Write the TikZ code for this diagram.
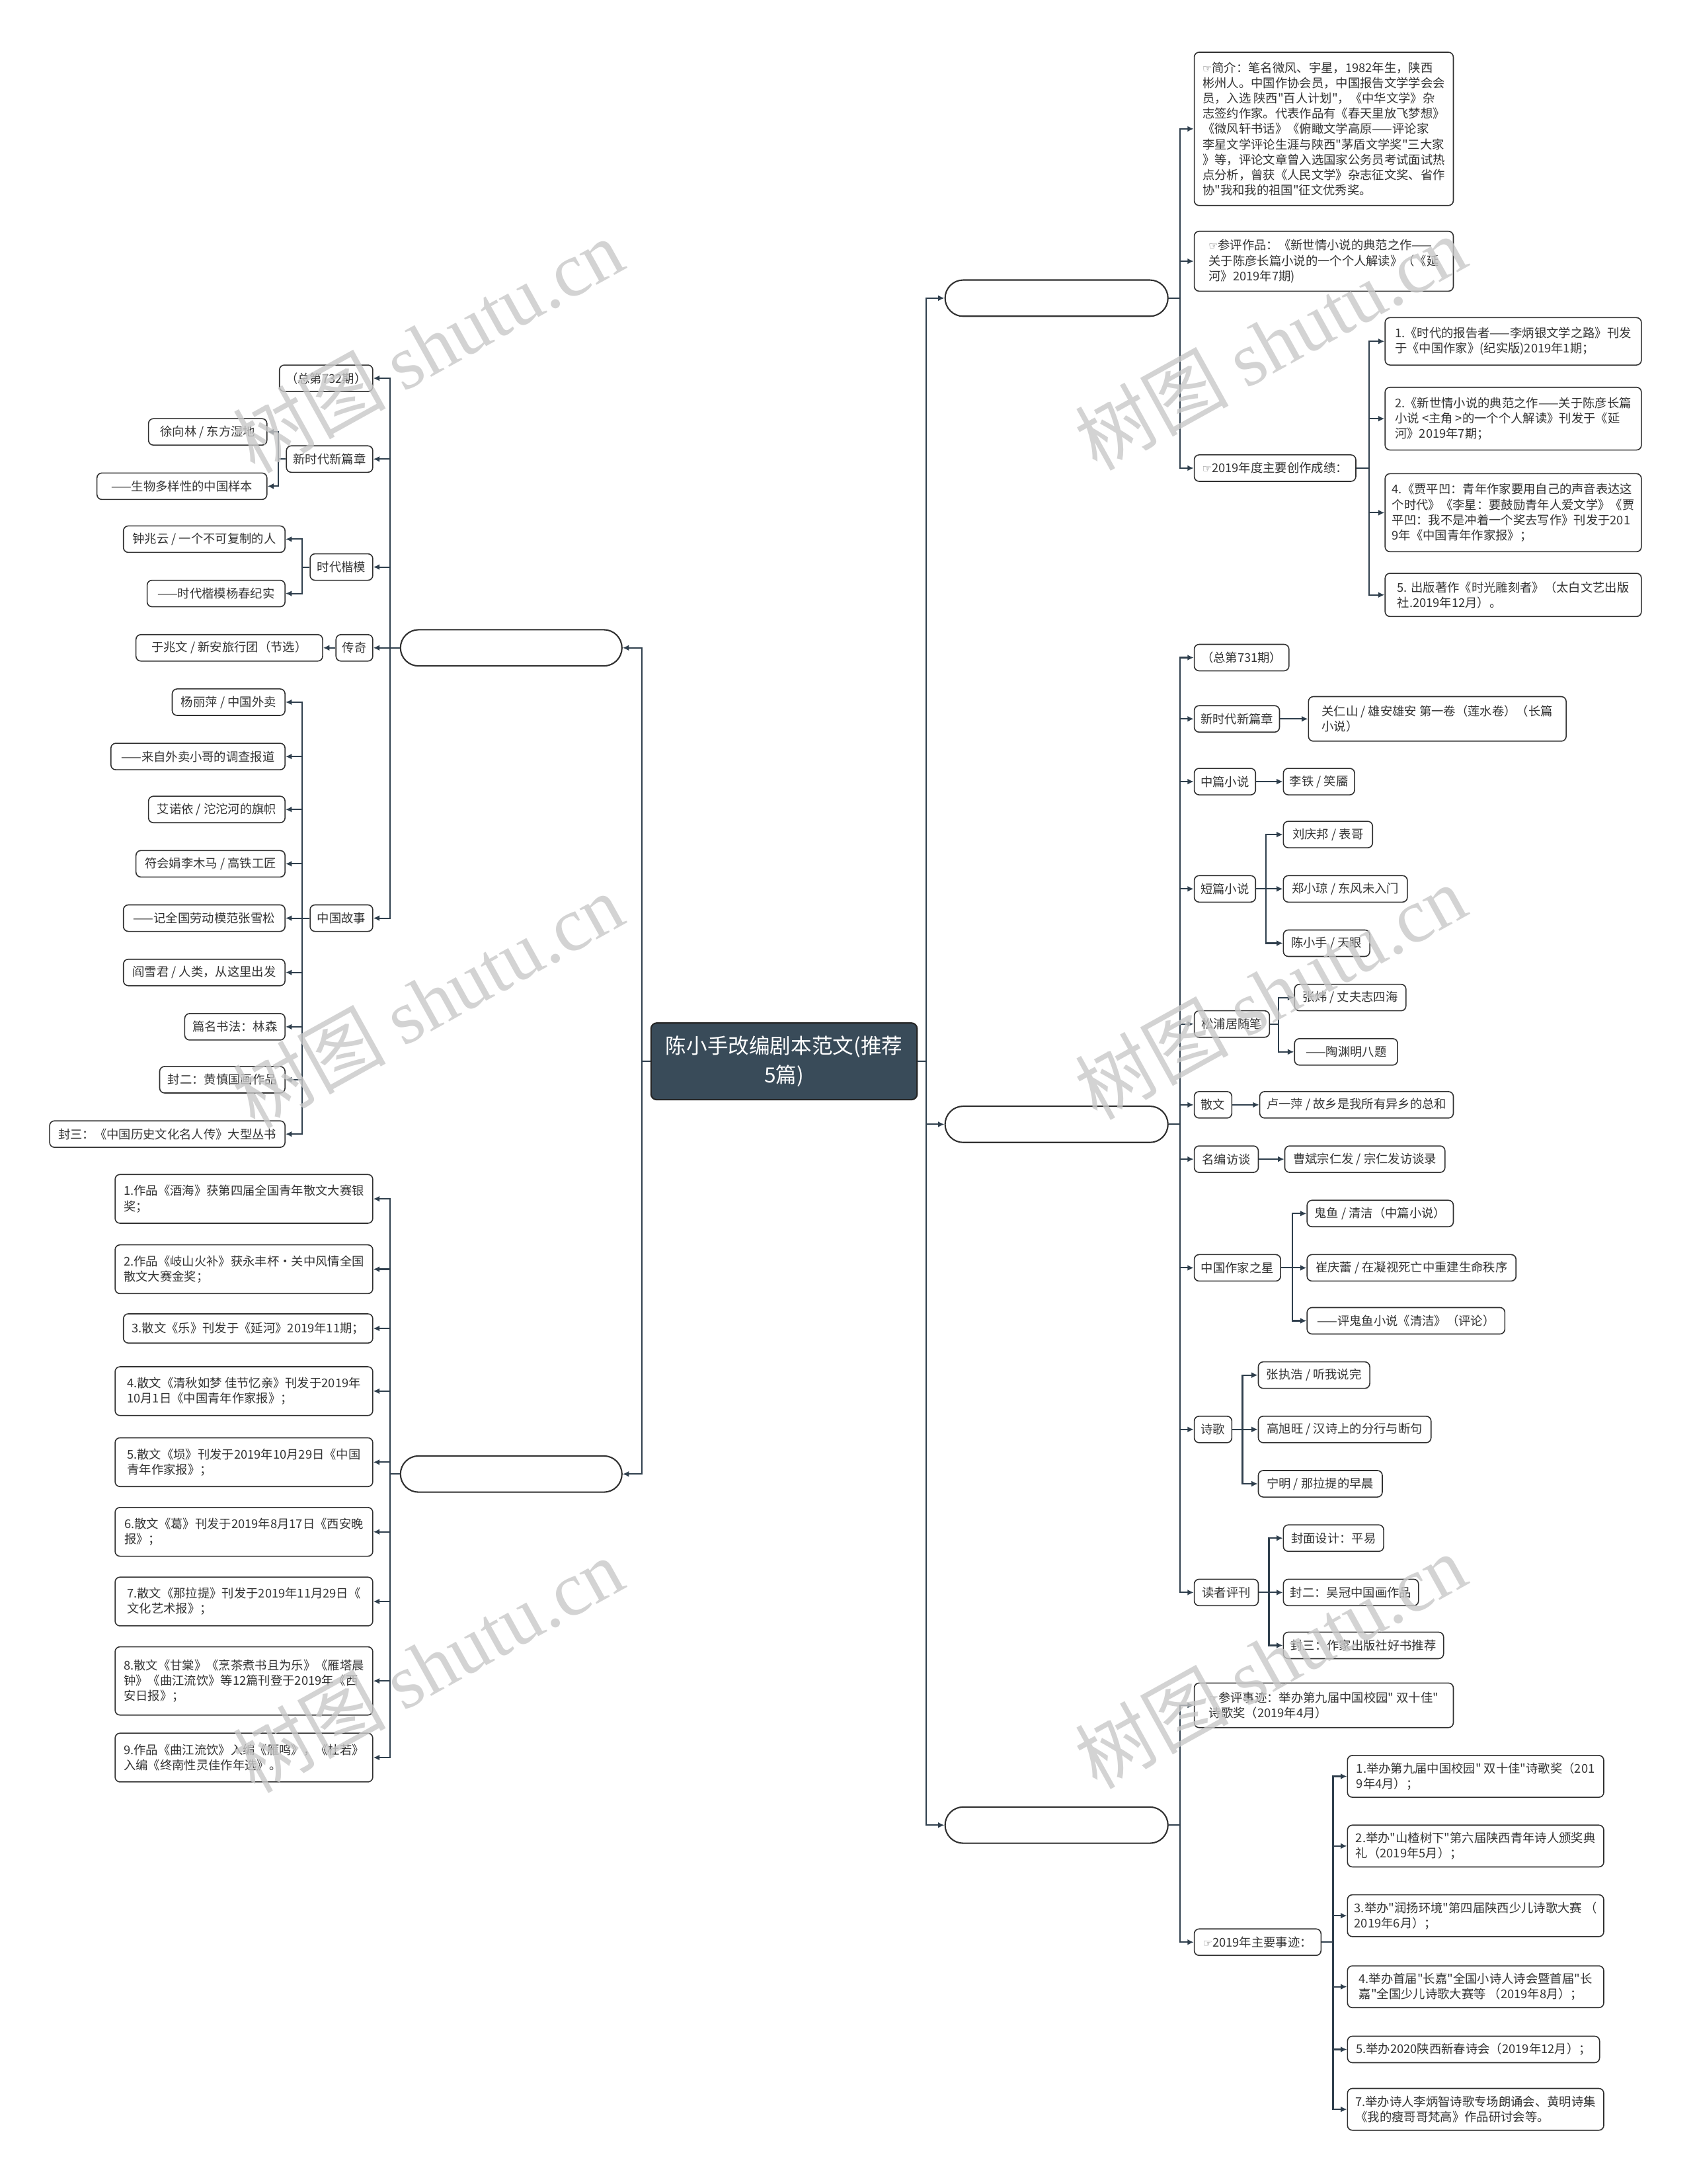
\documentclass[tikz,border=0pt]{standalone}
\usepackage{fontspec}
\newfontfamily\cjk{Noto Sans CJK SC}
\newfontfamily\symf{DejaVu Sans}
\newfontfamily\wmserif{Liberation Serif}
\usetikzlibrary{arrows.meta}
\definecolor{linec}{HTML}{2F3F4D}
\definecolor{boxc}{HTML}{303030}
\definecolor{txtc}{HTML}{333333}
\definecolor{rootc}{HTML}{394B59}
\definecolor{wmc}{HTML}{C8C8C8}
\newcommand\hand{{\symf\fontsize{7.5}{7.5}\selectfont\textcolor{txtc!80}{☞}}}
\newcommand\rnd[6][]{\node[box,anchor=west,minimum width={(#4)*1pt-(#3)*1pt},#1] (#2) at (#3,#5) {#6};}
\newcommand\lnd[6][]{\node[box,anchor=east,minimum width={(#4)*1pt-(#3)*1pt},#1] (#2) at (#4,#5) {#6};}
\tikzset{
  box/.style={draw=boxc, line width=0.75pt, rounded corners=3.5pt, fill=white, text=txtc,
    font=\cjk\fontsize{8.7}{11}\selectfont, inner xsep=4.5pt, inner ysep=1.5pt,
    minimum height=19pt, align=left},
  pill/.style={rounded corners=13pt, minimum height=26pt, line width=1pt},
  conn/.style={draw=linec, line width=1pt, -{Latex[length=4.5pt,width=4.2pt]}},
  rootbox/.style={draw=black!85, fill=rootc, rounded corners=4pt, text=white,
    font=\cjk\fontsize{15}{21}\selectfont, minimum width=191pt, minimum height=55pt,
    align=center, line width=1pt, inner sep=2pt},
  wm/.style={text=wmc, opacity=0.8, rotate=29, inner sep=0pt,
    font=\cjk\fontsize{55}{55}\selectfont}
}
\begin{document}
\begin{tikzpicture}[x=1pt,y=-1pt]
\fill[white] (0,0) rectangle (1215,1567.6);
\useasboundingbox (0,0) rectangle (1215,1567.6);

% trunk coordinates
\coordinate (TL) at (461,0);
\coordinate (TR) at (665,0);
\coordinate (LT) at (280,0);
\coordinate (a2T) at (200,0);
\coordinate (a3T) at (217,0);
\coordinate (RT) at (847,0);
\coordinate (b3T) at (983,0);
\coordinate (c4T) at (909,0);
\coordinate (c5T) at (918,0);
\coordinate (c8T) at (928,0);
\coordinate (c9T) at (892,0);
\coordinate (c10T) at (911,0);
\coordinate (d2T) at (957,0);

% root
\node[rootbox] (root) at (562.9,761.8) {陈小手改编剧本范文(推荐\\5篇)};

% main pills
\lnd[pill]{L1}{288}{447}{465}{}
\lnd[pill]{L2}{288}{447}{1058}{}
\rnd[pill]{R1}{678}{838}{214}{}
\rnd[pill]{R2}{678}{838}{807}{}
\rnd[pill]{R3}{678}{838}{1310}{}

% ---------- left branch 1
\lnd{a1}{201}{268}{271.5}{（总第732期）}
\lnd{a2}{206}{268}{329.5}{新时代新篇章}
\lnd{a21}{107}{192}{310}{徐向林 / 东方湿地}
\lnd{a22}{70}{192}{349}{——生物多样性的中国样本}
\lnd{a3}{223}{268}{407}{时代楷模}
\lnd{a31}{89}{205}{387}{钟兆云 / 一个不可复制的人}
\lnd{a32}{106}{205}{426}{——时代楷模杨春纪实}
\lnd{a4}{242}{268}{465}{传奇}
\lnd{a41}{98}{232}{465}{于兆文 / 新安旅行团（节选）}
\lnd{a5}{223}{268}{659}{中国故事}
\lnd{a51}{124}{205}{504}{杨丽萍 / 中国外卖}
\lnd{a52}{80}{205}{543}{——来自外卖小哥的调查报道}
\lnd{a53}{107}{205}{581}{艾诺依 / 沱沱河的旗帜}
\lnd{a54}{98}{205}{620}{符会娟李木马 / 高铁工匠}
\lnd{a55}{89}{205}{659}{——记全国劳动模范张雪松}
\lnd{a56}{89}{205}{698}{阎雪君 / 人类，从这里出发}
\lnd{a57}{133}{205}{737}{篇名书法：林森}
\lnd{a58}{115}{205}{775}{封二：黄慎国画作品}
\lnd{a59}{36}{205}{814}{封三：《中国历史文化名人传》大型丛书}

% ---------- left branch 2
\lnd[minimum height=35pt]{e1}{83}{268}{860.5}{1.作品《酒海》获第四届全国青年散文大赛银\\奖；}
\lnd[minimum height=35pt]{e2}{83}{268}{911}{2.作品《岐山火补》获永丰杯•关中风情全国\\散文大赛金奖；}
\lnd[minimum height=21pt]{e3}{89}{268}{953.5}{3.散文《乐》刊发于《延河》2019年11期；}
\lnd[minimum height=35pt]{e4}{83}{268}{998.5}{4.散文《清秋如梦 佳节忆亲》刊发于2019年\\10月1日《中国青年作家报》；}
\lnd[minimum height=35pt]{e5}{83}{268}{1049.5}{5.散文《埙》刊发于2019年10月29日《中国\\青年作家报》；}
\lnd[minimum height=35pt]{e6}{83}{268}{1099.5}{6.散文《葛》刊发于2019年8月17日《西安晚\\报》；}
\lnd[minimum height=35pt]{e7}{83}{268}{1149.5}{7.散文《那拉提》刊发于2019年11月29日《\\文化艺术报》；}
\lnd[minimum height=49pt]{e8}{83}{268}{1206.5}{8.散文《甘棠》《烹茶煮书且为乐》《雁塔晨\\钟》《曲江流饮》等12篇刊登于2019年《西\\安日报》；}
\lnd[minimum height=35pt]{e9}{83}{268}{1261.5}{9.作品《曲江流饮》入编《雁鸣》，《杜若》\\入编《终南性灵佳作年选》。}

% ---------- right branch 1
\rnd[minimum height=110pt]{b1}{857}{1043}{92.5}{\hand 简介：笔名微风、宇星，1982年生，陕西\\彬州人。中国作协会员，中国报告文学学会会\\员，入选 陕西"百人计划"，《中华文学》杂\\志签约作家。代表作品有《春天里放飞梦想》\\《微风轩书话》《俯瞰文学高原——评论家\\李星文学评论生涯与陕西"茅盾文学奖"三大家\\》等，评论文章曾入选国家公务员考试面试热\\点分析，曾获《人民文学》杂志征文奖、省作\\协"我和我的祖国"征文优秀奖。}
\rnd[minimum height=43pt]{b2}{857}{1043}{187.5}{\hand 参评作品：《新世情小说的典范之作——\\关于陈彦长篇小说的一个个人解读》（《延\\河》2019年7期)}
\rnd{b3}{857}{973}{336}{\hand 2019年度主要创作成绩：}
\rnd[minimum height=34pt]{b31}{994}{1178}{245}{1.《时代的报告者——李炳银文学之路》刊发\\于《中国作家》(纪实版)2019年1期；}
\rnd[minimum height=45pt]{b32}{994}{1178}{300.5}{2.《新世情小说的典范之作——关于陈彦长篇\\小说 <主角 >的一个个人解读》刊发于《延\\河》2019年7期；}
\rnd[minimum height=56pt]{b33}{994}{1178}{368}{4.《贾平凹：青年作家要用自己的声音表达这\\个时代》《李星：要鼓励青年人爱文学》《贾\\平凹：我不是冲着一个奖去写作》刊发于201\\9年《中国青年作家报》；}
\rnd[minimum height=31pt]{b34}{994}{1178}{427}{5. 出版著作《时光雕刻者》（太白文艺出版\\社.2019年12月）。}

% ---------- right branch 2
\rnd{c1}{857}{925}{472}{（总第731期）}
\rnd{c2}{857}{918}{516}{新时代新篇章}
\rnd[minimum height=32pt]{c21}{939}{1124}{516}{关仁山 / 雄安雄安 第一卷（莲水卷）（长篇\\小说）}
\rnd{c3}{857}{901}{561}{中篇小说}
\rnd{c31}{921}{972}{561}{李铁 / 笑靥}
\rnd{c4}{857}{901}{638}{短篇小说}
\rnd{c41}{921}{985}{599}{刘庆邦 / 表哥}
\rnd{c42}{921}{1010}{638}{郑小琼 / 东风未入门}
\rnd{c43}{921}{983}{677}{陈小手 / 天眼}
\rnd{c5}{857}{911}{735}{松浦居随笔}
\rnd{c51}{929}{1009}{716}{张炜 / 丈夫志四海}
\rnd{c52}{929}{1003}{755}{——陶渊明八题}
\rnd{c6}{857}{884}{793}{散文}
\rnd{c61}{904}{1043}{793}{卢一萍 / 故乡是我所有异乡的总和}
\rnd{c7}{857}{903}{832}{名编访谈}
\rnd{c71}{922}{1037}{832}{曹斌宗仁发 / 宗仁发访谈录}
\rnd{c8}{857}{919}{910}{中国作家之星}
\rnd{c81}{938}{1043}{871}{鬼鱼 / 清洁（中篇小说）}
\rnd{c82}{938}{1088}{910}{崔庆蕾 / 在凝视死亡中重建生命秩序}
\rnd{c83}{938}{1080}{948}{——评鬼鱼小说《清洁》（评论）}
\rnd{c9}{857}{884}{1026}{诗歌}
\rnd{c91}{903}{983}{987}{张执浩 / 听我说完}
\rnd{c92}{903}{1027}{1026}{高旭旺 / 汉诗上的分行与断句}
\rnd{c93}{903}{992}{1065}{宁明 / 那拉提的早晨}
\rnd{c10}{857}{903}{1143}{读者评刊}
\rnd{c101}{921}{993}{1104}{封面设计：平易}
\rnd{c102}{921}{1018}{1143}{封二：吴冠中国画作品}
\rnd{c103}{921}{1036}{1181}{封三：作家出版社好书推荐}

% ---------- right branch 3
\rnd[minimum height=32pt]{d1}{857}{1043}{1224}{\hand 参评事迹：举办第九届中国校园" 双十佳"\\诗歌奖（2019年4月）}
\rnd{d2}{857}{948}{1394}{\hand 2019年主要事迹：}
\rnd[minimum height=30pt]{d21}{967}{1151}{1275}{1.举办第九届中国校园" 双十佳"诗歌奖（201\\9年4月）；}
\rnd[minimum height=30pt]{d22}{967}{1151}{1325}{2.举办"山楂树下"第六届陕西青年诗人颁奖典\\礼（2019年5月）；}
\rnd[minimum height=30pt]{d23}{967}{1151}{1375}{3.举办"润扬环境"第四届陕西少儿诗歌大赛 （\\2019年6月）；}
\rnd[minimum height=30pt]{d24}{967}{1151}{1426}{4.举办首届"长嘉"全国小诗人诗会暨首届"长\\嘉"全国少儿诗歌大赛等 （2019年8月）；}
\rnd{d25}{967}{1148}{1471}{5.举办2020陕西新春诗会（2019年12月）；}
\rnd[minimum height=30pt]{d26}{967}{1151}{1514}{7.举办诗人李炳智诗歌专场朗诵会、黄明诗集\\《我的瘦哥哥梵高》作品研讨会等。}

% ---------- connectors: root
\foreach \p in {L1,L2}
  \draw[conn] (root.west) -- (root.west -| TL) |- (\p.east);
\foreach \p in {R1,R2,R3}
  \draw[conn] (root.east) -- (root.east -| TR) |- (\p.west);

% left branch 1
\foreach \c in {a1,a2,a3,a4,a5}
  \draw[conn] (L1.west) -- (L1.west -| LT) |- (\c.east);
\foreach \c in {a21,a22}
  \draw[conn] (a2.west) -- (a2.west -| a2T) |- (\c.east);
\foreach \c in {a31,a32}
  \draw[conn] (a3.west) -- (a3.west -| a3T) |- (\c.east);
\draw[conn] (a4.west) -- (a41.east);
\foreach \c in {a51,a52,a53,a54,a55,a56,a57,a58,a59}
  \draw[conn] (a5.west) -- (a5.west -| a3T) |- (\c.east);

% left branch 2
\foreach \c in {e1,e2,e3,e4,e5,e6,e7,e8,e9}
  \draw[conn] (L2.west) -- (L2.west -| LT) |- (\c.east);

% right branch 1
\foreach \c in {b1,b2,b3}
  \draw[conn] (R1.east) -- (R1.east -| RT) |- (\c.west);
\foreach \c in {b31,b32,b33,b34}
  \draw[conn] (b3.east) -- (b3.east -| b3T) |- (\c.west);

% right branch 2
\foreach \c in {c1,c2,c3,c4,c5,c6,c7,c8,c9,c10}
  \draw[conn] (R2.east) -- (R2.east -| RT) |- (\c.west);
\draw[conn] (c2.east) -- (c21.west);
\draw[conn] (c3.east) -- (c31.west);
\foreach \c in {c41,c42,c43}
  \draw[conn] (c4.east) -- (c4.east -| c4T) |- (\c.west);
\foreach \c in {c51,c52}
  \draw[conn] (c5.east) -- (c5.east -| c5T) |- (\c.west);
\draw[conn] (c6.east) -- (c61.west);
\draw[conn] (c7.east) -- (c71.west);
\foreach \c in {c81,c82,c83}
  \draw[conn] (c8.east) -- (c8.east -| c8T) |- (\c.west);
\foreach \c in {c91,c92,c93}
  \draw[conn] (c9.east) -- (c9.east -| c9T) |- (\c.west);
\foreach \c in {c101,c102,c103}
  \draw[conn] (c10.east) -- (c10.east -| c10T) |- (\c.west);

% right branch 3
\foreach \c in {d1,d2}
  \draw[conn] (R3.east) -- (R3.east -| RT) |- (\c.west);
\foreach \c in {d21,d22,d23,d24,d25,d26}
  \draw[conn] (d2.east) -- (d2.east -| d2T) |- (\c.west);

% ---------- watermarks
\node[wm] (w1) at (307,248) {树图 {\wmserif shutu.cn}};
\node[wm] (w2) at (307,718) {树图 {\wmserif shutu.cn}};
\node[wm] (w3) at (307,1195) {树图 {\wmserif shutu.cn}};
\node[wm] (w4) at (912,246) {树图 {\wmserif shutu.cn}};
\node[wm] (w5) at (912,712) {树图 {\wmserif shutu.cn}};
\node[wm] (w6) at (912,1192) {树图 {\wmserif shutu.cn}};
\end{tikzpicture}
\end{document}
